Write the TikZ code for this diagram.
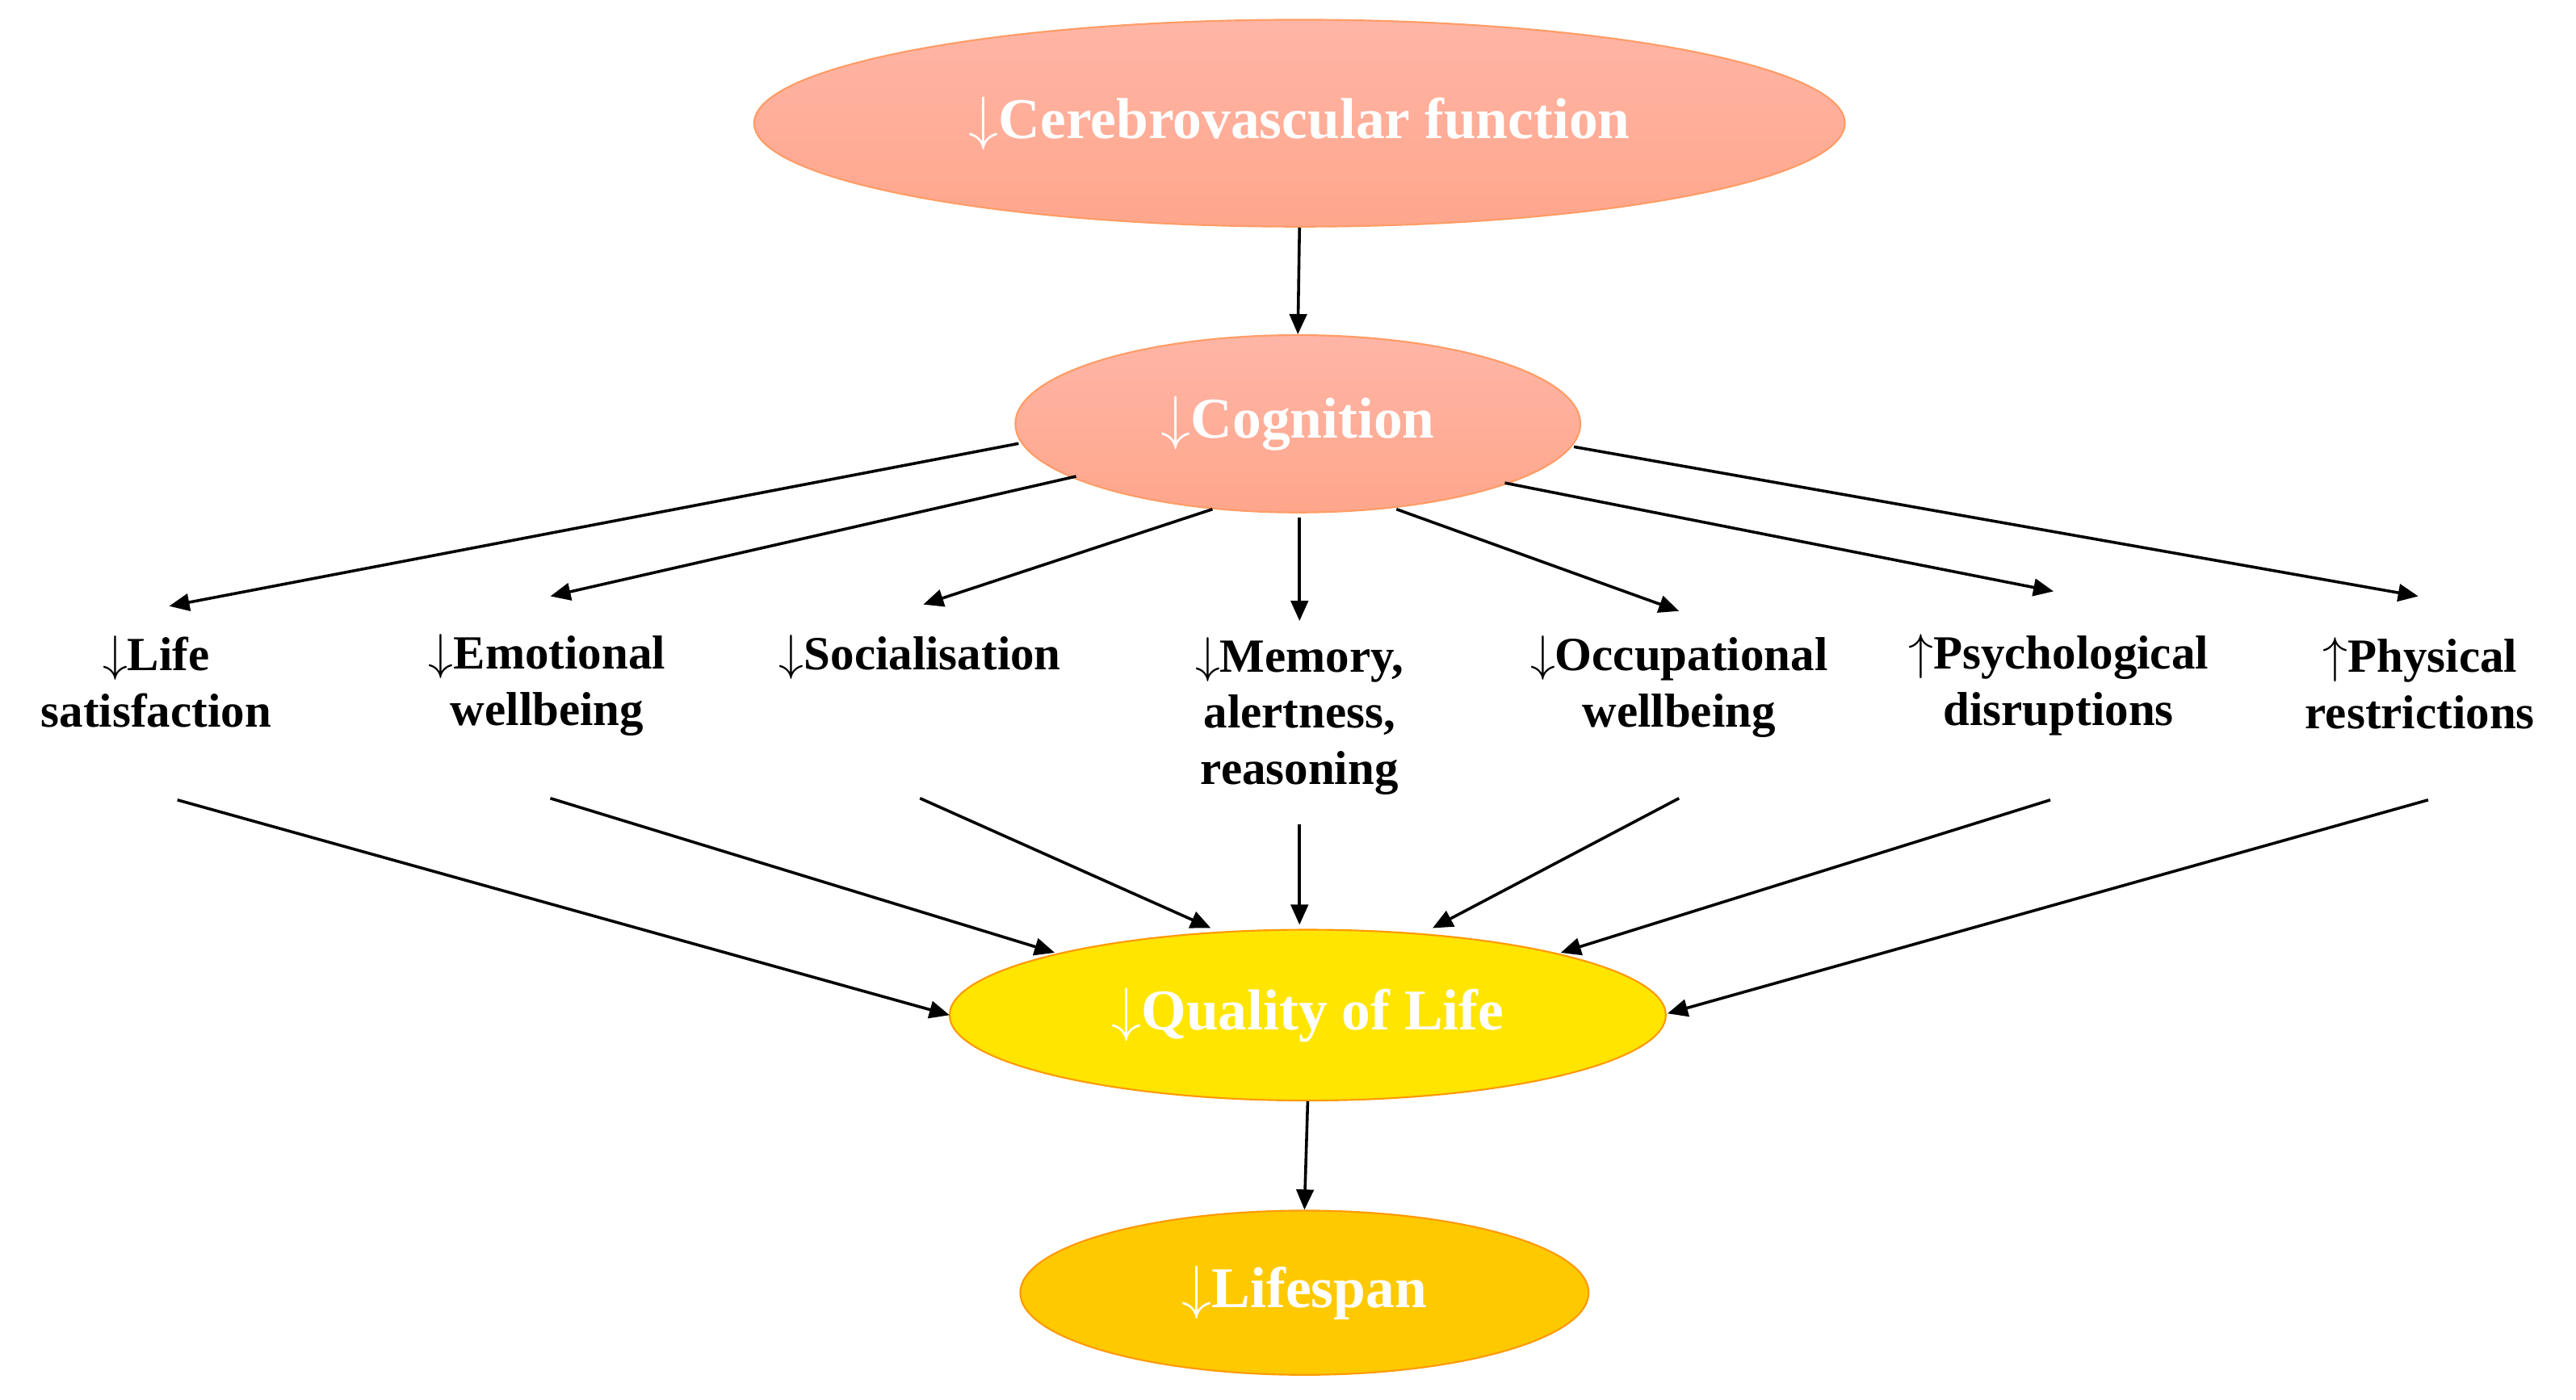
\documentclass[tikz,border=0pt]{standalone}
\usepackage{fontspec}
\setmainfont{Liberation Serif}
\usetikzlibrary{shapes.geometric,arrows.meta}
\begin{document}
\begin{tikzpicture}[x=0.02cm,y=-0.02cm,
  ell/.style={ellipse,inner sep=0pt,text=white,font=\bfseries\fontsize{20}{24}\selectfont},
  salmon/.style={ell,draw=orange!70!red!60,top color=orange!35!red!35!white,bottom color=orange!45!red!45!white,line width=0.6pt},
  gold/.style={ell,draw=orange!80!yellow,fill=orange!25!yellow!90!red,line width=0.6pt},
  lab/.style={align=center,font=\bfseries\fontsize{16.5}{19.5}\selectfont,inner sep=0pt},
  arr/.style={-{Triangle[length=7pt,width=6pt]},line width=1pt}]
\useasboundingbox (0,0) rectangle (1568,852);
\node[salmon,minimum width=664\pgflinewidth*0+13.28cm,minimum height=2.52cm] (cer) at (791,75) {$\downarrow$Cerebrovascular function};
\node[salmon,minimum width=6.88cm,minimum height=2.16cm] (cog) at (790,258) {$\downarrow$Cognition};
\node[gold,fill=orange!20!yellow!100,minimum width=8.72cm,minimum height=2.08cm] (qol) at (796,618) {$\downarrow$Quality of Life};
\node[gold,minimum width=6.92cm,minimum height=2.0cm] (life) at (794,787) {$\downarrow$Lifespan};
\node[lab] (l1) at (95,415) {$\downarrow$Life\\satisfaction};
\node[lab] (l2) at (333,417) {$\downarrow$Emotional\\wellbeing};
\node[lab] (l3) at (560,400) {$\downarrow$Socialisation};
\node[lab] (l4) at (791,436) {$\downarrow$Memory,\\alertness,\\reasoning};
\node[lab] (l5) at (1022,418) {$\downarrow$Occupational\\wellbeing};
\node[lab] (l6) at (1253,417) {$\uparrow$Psychological\\disruptions};
\node[lab] (l7) at (1473,416) {$\uparrow$Physical\\restrictions};
\draw[arr] (cer.south) -- (cog.north);
\draw[arr] (qol.south) -- (life.north);
\foreach \s/\e/\n in {{620,270}/{103,369}/a1,{655,290}/{335,363}/a2,{738,310}/{562,368}/a3,{791,315}/{791,378}/a4,{850,310}/{1022,372}/a5,{916,294}/{1250,360}/a6,{958,272}/{1472,363}/a7,
 {108,487}/{578,618}/b1,{335,486}/{642,580}/b2,{560,486}/{737,565}/b3,{791,502}/{791,563}/b4,{1022,486}/{872,565}/b5,{1248,487}/{950,580}/b6,{1478,487}/{1015,617}/b7}{
 \coordinate (\n s) at (\s); \coordinate (\n e) at (\e);
 \draw[arr] (\n s) -- (\n e);}
\end{tikzpicture}
\end{document}
